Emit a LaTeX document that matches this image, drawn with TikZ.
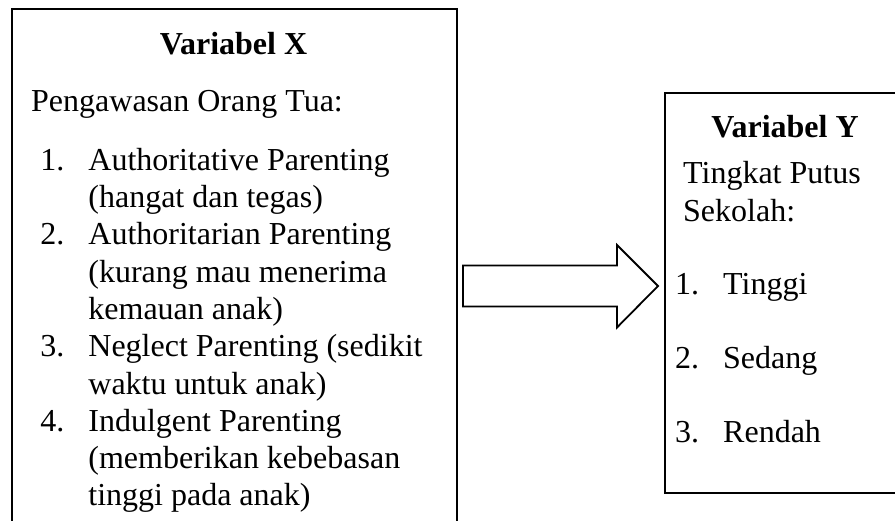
\documentclass[tikz,border=0pt]{standalone}
\usepackage{fontspec}
\setmainfont{Liberation Serif}
\usetikzlibrary{matrix}
\usetikzlibrary{positioning}

\tikzset{
  frame/.style={draw, line width=2.2pt, inner sep=0pt, anchor=north west},
  title/.style={font=\fontsize{32}{37}\selectfont\bfseries, inner sep=0pt, anchor=base},
  plain/.style={font=\fontsize{32}{37}\selectfont, inner sep=0pt, anchor=base west},
  item/.style={font=\fontsize{32}{37}\selectfont, inner sep=0pt, anchor=base west,
    text height=24pt, text depth=7pt},
}

\begin{document}
\begin{tikzpicture}[x=1pt,y=-1pt]
\path[use as bounding box, clip] (0,0) rectangle (895,520);
% the two boxes
\node[frame, minimum width=445pt, minimum height=530pt] (boxX) at (11,8) {};
\node[frame, minimum width=250pt, minimum height=400pt] (boxY) at (664,92) {};

% variabel X
\node[title] (varX) at (233.5,54) {Variabel X};
\node[plain] (pengawasan) at (31,111) {Pengawasan Orang Tua:};
\matrix (listX) [matrix of nodes, inner sep=0pt, anchor=north west, nodes={item},
  row sep={37.3pt,between origins}, column sep={48pt,between origins}] at (40,146)
{
1. & Authoritative Parenting \\
   & (hangat dan tegas) \\
2. & Authoritarian Parenting \\
   & (kurang mau menerima \\
   & kemauan anak) \\
3. & Neglect Parenting (sedikit \\
   & waktu untuk anak) \\
4. & Indulgent Parenting \\
   & (memberikan kebebasan \\
   & tinggi pada anak) \\
};

% variabel Y
\node[title] (varY) at (785,137) {Variabel Y};
\node[plain] (tingkat) at (683,183) {Tingkat Putus};
\node[plain] (sekolah) at (683,221) {Sekolah:};
\matrix (listY) [matrix of nodes, inner sep=0pt, anchor=north west, nodes={item},
  row sep={74pt,between origins}, column sep={48pt,between origins}] at (675,270)
{
1. & Tinggi \\
2. & Sedang \\
3. & Rendah \\
};

% block arrow X -> Y
\coordinate (tail) at (463,286);
\coordinate (tip) at (658,286);
\draw[line width=1.8pt, line join=miter] (tail) ++(0,-20.5) -- ++(154,0) -- ++(0,-20.5)
  -- (tip) -- ++(-41,41.5) -- ++(0,-21) -- ++(-154,0) -- cycle;
\end{tikzpicture}
\end{document}
